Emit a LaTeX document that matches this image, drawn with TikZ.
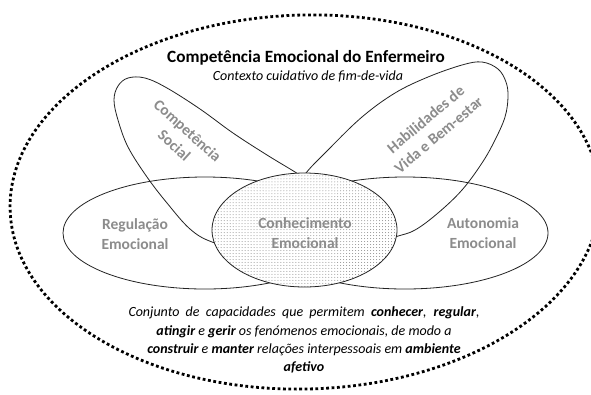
\documentclass[tikz,border=0pt]{standalone}
\usepackage{fontspec}
\setmainfont{Carlito}
\usetikzlibrary{patterns}
\definecolor{lbl}{RGB}{140,140,140}
\definecolor{edge}{RGB}{35,35,35}
\tikzset{
  lobe/.style={draw=edge, line width=0.8bp},
  outerring/.style={draw=black, line width=2.8bp, dash pattern=on 2.8bp off 2.6bp},
  lbltext/.style={text=lbl, font=\fontsize{15.5bp}{20bp}\selectfont\bfseries, align=center, inner sep=0pt},
  titletext/.style={font=\fontsize{17.2bp}{20bp}\selectfont\bfseries, inner sep=0pt},
  subtext/.style={font=\fontsize{14bp}{17bp}\selectfont\itshape, inner sep=0pt},
  desctext/.style={font=\fontsize{14bp}{18.2bp}\selectfont\itshape, align=center, inner sep=0pt},
}
\begin{document}
\begin{tikzpicture}[x=1bp, y=-1bp]
\useasboundingbox (0,0) rectangle (591,394);
\clip (0,0) rectangle (591,394);
\fill[white] (0,0) rectangle (591,394);
% outer dotted ring
\draw[outerring, rotate around={1.5:(305,202)}] (305,202) ellipse [x radius=295bp, y radius=187bp];
% side ellipses
\draw[lobe] (205,233) ellipse [x radius=142bp, y radius=56bp];
\draw[lobe] (405,233) ellipse [x radius=143bp, y radius=56bp];
% tilted lobes
\draw[lobe] plot[smooth cycle, tension=0.6] coordinates {
  (114,100) (118,86) (128,78) (145,78) (167,88) (200,109) (233,133) (267,155) (303,177)
  (330,196) (340,222) (325,245) (290,255) (250,252) (212,242) (190,229) (167,203)
  (147,177) (128,147) (118,120)};
\draw[lobe] plot[smooth cycle, tension=0.6] coordinates {
  (303,177) (328,150) (362,117) (395,93) (428,77) (462,65) (482,62) (498,69) (506,82)
  (508,97) (505,117) (495,140) (482,163) (462,190) (438,213) (415,230) (395,237)
  (360,248) (325,245) (295,228) (290,205)};
% central ellipse
\draw[lobe, preaction={fill=white}, pattern=dots, pattern color=black!45] (304.5,230) ellipse [x radius=92.5bp, y radius=57bp];
% labels
\node[lbltext] (reg) at (135,234) {Regulação\\Emocional};
\node[lbltext] (con) at (305,233) {Conhecimento\\Emocional};
\node[lbltext] (aut) at (483,233) {Autonomia\\Emocional};
\node[lbltext, rotate=-42] (soc) at (181,138) {Competência\\Social};
\node[lbltext, rotate=40] (hab) at (432,127) {Habilidades de\\Vida e Bem-estar};
% titles
\node[titletext] (title) at (306,58) {Competência Emocional do Enfermeiro};
\node[subtext] (sub) at (308,76) {Contexto cuidativo de fim-de-vida};
% description
\node[desctext] (desc) at (304,340) {\makebox[351bp][s]{Conjunto de capacidades que permitem \textbf{conhecer}, \textbf{regular},}\\
\textbf{atingir} e \textbf{gerir} os fenómenos emocionais, de modo a\\
\textbf{construir} e \textbf{manter} relações interpessoais em \textbf{ambiente}\\
\textbf{afetivo}};
\end{tikzpicture}
\end{document}
